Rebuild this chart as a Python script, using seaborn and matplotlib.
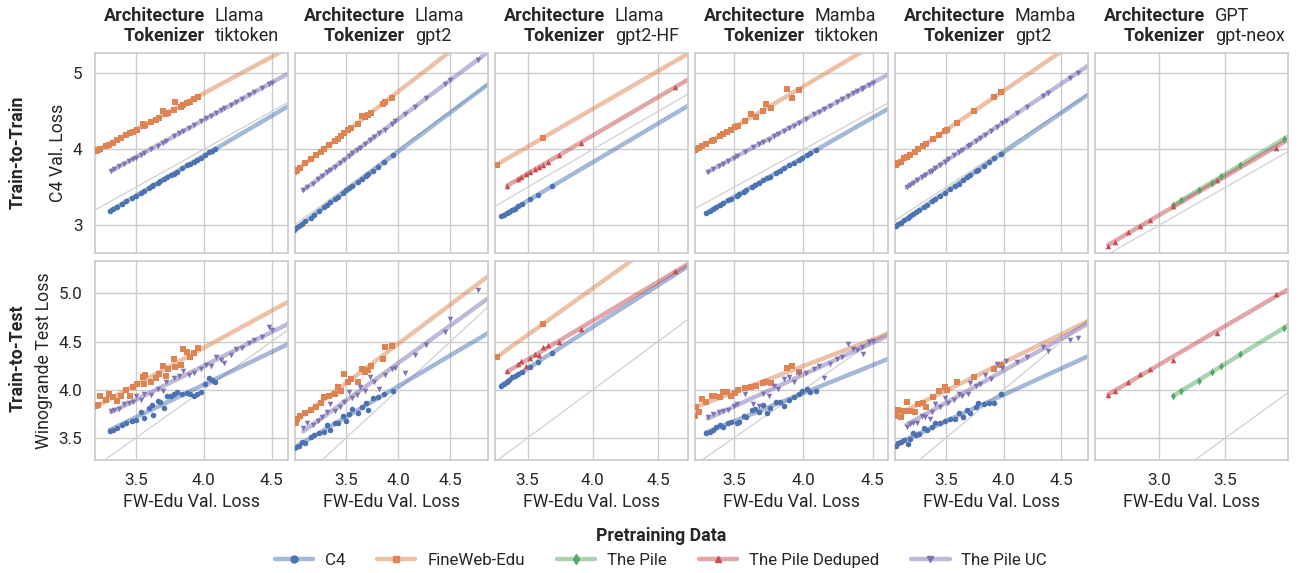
import numpy as np
import pandas as pd
import matplotlib
matplotlib.use("Agg")
import matplotlib.pyplot as plt
import seaborn as sns
from matplotlib.lines import Line2D
from matplotlib.ticker import MultipleLocator

# ---------------- data ----------------
architectures = ["Llama", "Llama", "Llama", "Mamba", "Mamba", "GPT"]
tokenizers = ["tiktoken", "gpt2", "gpt2-HF", "tiktoken", "gpt2", "gpt-neox"]
series_names = ["C4", "FineWeb-Edu", "The Pile", "The Pile Deduped", "The Pile UC"]

# Panel 1: Llama / tiktoken
p1_c4_x = [3.31, 3.33, 3.36, 3.40, 3.43, 3.47, 3.50, 3.54, 3.56, 3.60, 3.62, 3.63, 3.66, 3.68, 3.71, 3.73, 3.76, 3.78, 3.80, 3.84, 3.88, 3.90, 3.93, 3.95, 3.98, 4.01, 4.04, 4.06, 4.08]
p1_c4_train = [3.19, 3.21, 3.24, 3.28, 3.32, 3.36, 3.39, 3.43, 3.45, 3.49, 3.52, 3.53, 3.56, 3.58, 3.61, 3.63, 3.66, 3.68, 3.70, 3.75, 3.79, 3.81, 3.84, 3.86, 3.89, 3.93, 3.96, 3.98, 4.00]
p1_c4_test = [3.57, 3.58, 3.60, 3.63, 3.66, 3.68, 3.69, 3.77, 3.71, 3.81, 3.84, 3.74, 3.88, 3.87, 3.81, 3.94, 3.93, 3.96, 3.98, 3.96, 3.97, 3.96, 3.94, 3.96, 3.98, 4.06, 4.12, 4.10, 4.08]
p1_fw_x = [3.21, 3.22, 3.24, 3.28, 3.30, 3.33, 3.36, 3.39, 3.43, 3.46, 3.48, 3.51, 3.55, 3.56, 3.57, 3.61, 3.65, 3.67, 3.70, 3.72, 3.74, 3.78, 3.79, 3.83, 3.85, 3.88, 3.90, 3.93, 3.96]
p1_fw_train = [3.98, 3.99, 4.01, 4.05, 4.06, 4.09, 4.12, 4.15, 4.19, 4.22, 4.23, 4.26, 4.34, 4.31, 4.32, 4.36, 4.39, 4.41, 4.51, 4.46, 4.48, 4.52, 4.63, 4.56, 4.58, 4.61, 4.63, 4.66, 4.69]
p1_fw_test = [3.83, 3.84, 3.93, 3.89, 3.96, 3.92, 3.88, 3.94, 4.00, 3.94, 4.03, 4.06, 4.13, 4.06, 4.15, 4.08, 4.12, 4.16, 4.25, 4.14, 4.22, 4.32, 4.24, 4.26, 4.42, 4.39, 4.34, 4.38, 4.43]
p1_uc_x = [3.32, 3.34, 3.38, 3.41, 3.45, 3.48, 3.50, 3.54, 3.56, 3.61, 3.66, 3.70, 3.72, 3.78, 3.82, 3.85, 3.89, 3.93, 3.98, 4.02, 4.05, 4.09, 4.13, 4.15, 4.20, 4.24, 4.28, 4.33, 4.37, 4.43, 4.48, 4.50]
p1_uc_train = [3.72, 3.74, 3.78, 3.81, 3.85, 3.87, 3.89, 3.93, 3.95, 4.00, 4.05, 4.09, 4.11, 4.17, 4.21, 4.24, 4.28, 4.32, 4.37, 4.41, 4.44, 4.48, 4.52, 4.54, 4.58, 4.62, 4.66, 4.71, 4.75, 4.81, 4.86, 4.88]
p1_uc_test = [3.78, 3.79, 3.80, 3.85, 3.86, 3.87, 3.93, 3.89, 3.96, 3.95, 4.01, 3.99, 4.08, 4.12, 4.14, 4.19, 4.15, 4.17, 4.22, 4.26, 4.25, 4.34, 4.31, 4.28, 4.36, 4.42, 4.43, 4.48, 4.52, 4.55, 4.65, 4.62]

# Panel 2: Llama / gpt2
p2_c4_x = [3.00, 3.02, 3.05, 3.08, 3.11, 3.16, 3.19, 3.24, 3.29, 3.32, 3.35, 3.39, 3.42, 3.47, 3.50, 3.53, 3.56, 3.61, 3.65, 3.69, 3.71, 3.76, 3.81, 3.86, 3.95]
p2_c4_train = [2.94, 2.96, 2.99, 3.02, 3.05, 3.10, 3.14, 3.19, 3.24, 3.27, 3.30, 3.34, 3.37, 3.42, 3.46, 3.49, 3.52, 3.57, 3.61, 3.65, 3.67, 3.72, 3.77, 3.83, 3.92]
p2_c4_test = [3.40, 3.41, 3.42, 3.46, 3.45, 3.51, 3.53, 3.55, 3.56, 3.63, 3.58, 3.65, 3.66, 3.73, 3.68, 3.75, 3.80, 3.76, 3.82, 3.86, 3.79, 3.91, 3.92, 3.96, 3.99]
p2_fw_x = [3.00, 3.02, 3.03, 3.06, 3.11, 3.16, 3.21, 3.26, 3.29, 3.34, 3.39, 3.42, 3.45, 3.48, 3.52, 3.55, 3.61, 3.65, 3.68, 3.71, 3.74, 3.85, 3.87, 3.94]
p2_fw_train = [3.70, 3.72, 3.73, 3.76, 3.82, 3.87, 3.92, 3.97, 4.00, 4.06, 4.11, 4.14, 4.17, 4.22, 4.26, 4.28, 4.34, 4.44, 4.43, 4.45, 4.48, 4.60, 4.62, 4.68]
p2_fw_test = [3.66, 3.65, 3.70, 3.73, 3.76, 3.79, 3.82, 3.86, 3.92, 3.94, 3.96, 4.03, 3.99, 4.16, 4.08, 4.11, 4.08, 4.22, 4.18, 4.20, 4.25, 4.32, 4.44, 4.45]
p2_uc_x = [3.09, 3.13, 3.18, 3.23, 3.27, 3.32, 3.35, 3.39, 3.44, 3.48, 3.53, 3.56, 3.60, 3.63, 3.68, 3.73, 3.77, 3.82, 3.87, 3.94, 3.97, 4.06, 4.16, 4.27, 4.45, 4.50, 4.76]
p2_uc_train = [3.46, 3.50, 3.55, 3.61, 3.65, 3.70, 3.73, 3.77, 3.82, 3.86, 3.91, 3.95, 3.99, 4.02, 4.07, 4.12, 4.16, 4.21, 4.26, 4.34, 4.37, 4.46, 4.56, 4.68, 4.86, 4.91, 5.18]
p2_uc_test = [3.60, 3.65, 3.63, 3.68, 3.72, 3.77, 3.85, 3.78, 3.82, 3.87, 3.98, 3.91, 3.95, 4.03, 3.99, 4.13, 4.08, 4.01, 4.15, 4.22, 4.23, 4.17, 4.36, 4.46, 4.60, 4.73, 5.03]

# Panel 3: Llama / gpt2-HF
p3_c4_x = [3.30, 3.32, 3.34, 3.36, 3.38, 3.40, 3.43, 3.46, 3.52, 3.58, 3.69]
p3_c4_train = [3.12, 3.14, 3.16, 3.18, 3.20, 3.22, 3.25, 3.28, 3.34, 3.40, 3.52]
p3_c4_test = [4.04, 4.06, 4.08, 4.10, 4.13, 4.14, 4.16, 4.18, 4.24, 4.29, 4.38]
p3_fw_x = [3.265, 3.616]
p3_fw_train = [3.80, 4.15]
p3_fw_test = [4.34, 4.68]
p3_dd_x = [3.345, 3.43, 3.45, 3.49, 3.52, 3.56, 3.59, 3.62, 3.66, 3.74, 3.91, 4.63]
p3_dd_train = [3.52, 3.61, 3.63, 3.67, 3.70, 3.74, 3.77, 3.80, 3.84, 3.92, 4.09, 4.82]
p3_dd_test = [4.19, 4.27, 4.30, 4.25, 4.33, 4.37, 4.36, 4.44, 4.46, 4.49, 4.63, 5.23]

# Panel 4: Mamba / tiktoken
p4_c4_x = [3.30, 3.325, 3.35, 3.375, 3.40, 3.42, 3.46, 3.48, 3.52, 3.54, 3.57, 3.59, 3.63, 3.65, 3.68, 3.71, 3.74, 3.76, 3.80, 3.83, 3.86, 3.90, 3.93, 3.97, 3.99, 4.03, 4.05, 4.09]
p4_c4_train = [3.16, 3.19, 3.21, 3.24, 3.27, 3.29, 3.33, 3.35, 3.39, 3.41, 3.44, 3.46, 3.51, 3.53, 3.56, 3.59, 3.62, 3.64, 3.69, 3.72, 3.75, 3.79, 3.82, 3.86, 3.88, 3.93, 3.95, 3.99]
p4_c4_test = [3.55, 3.56, 3.58, 3.61, 3.63, 3.61, 3.65, 3.67, 3.66, 3.67, 3.73, 3.72, 3.79, 3.80, 3.77, 3.84, 3.76, 3.81, 3.87, 3.87, 3.83, 3.89, 3.92, 3.96, 3.99, 4.01, 3.98, 3.99]
p4_fw_x = [3.22, 3.23, 3.25, 3.27, 3.30, 3.34, 3.36, 3.40, 3.42, 3.45, 3.48, 3.51, 3.53, 3.58, 3.62, 3.66, 3.71, 3.73, 3.77, 3.88, 3.92, 3.97]
p4_fw_train = [3.99, 4.00, 4.02, 4.04, 4.07, 4.11, 4.13, 4.18, 4.20, 4.23, 4.26, 4.29, 4.31, 4.38, 4.46, 4.43, 4.50, 4.60, 4.54, 4.79, 4.68, 4.78]
p4_fw_test = [3.73, 3.82, 3.77, 3.90, 3.87, 3.94, 3.93, 3.92, 3.98, 3.98, 3.94, 3.97, 4.00, 4.02, 4.03, 4.04, 4.07, 4.08, 4.07, 4.23, 4.25, 4.18]
p4_uc_x = [3.313, 3.35, 3.39, 3.42, 3.46, 3.50, 3.52, 3.58, 3.64, 3.68, 3.71, 3.75, 3.79, 3.82, 3.86, 3.90, 3.93, 3.97, 4.02, 4.08, 4.11, 4.15, 4.19, 4.24, 4.28, 4.32, 4.36, 4.39, 4.42, 4.43, 4.47, 4.50]
p4_uc_train = [3.70, 3.74, 3.78, 3.81, 3.85, 3.89, 3.91, 3.97, 4.03, 4.07, 4.10, 4.13, 4.17, 4.20, 4.24, 4.28, 4.31, 4.35, 4.40, 4.46, 4.49, 4.53, 4.57, 4.62, 4.66, 4.70, 4.74, 4.77, 4.80, 4.81, 4.85, 4.88]
p4_uc_test = [3.72, 3.75, 3.77, 3.78, 3.79, 3.83, 3.85, 3.96, 3.85, 3.83, 3.96, 3.94, 4.04, 4.01, 4.11, 4.13, 4.08, 4.17, 4.17, 4.22, 4.25, 4.12, 4.27, 4.32, 4.34, 4.47, 4.42, 4.41, 4.44, 4.37, 4.50, 4.51]

# Panel 5: Mamba / gpt2
p5_c4_x = [3.067, 3.09, 3.11, 3.14, 3.17, 3.19, 3.22, 3.24, 3.27, 3.31, 3.34, 3.38, 3.41, 3.45, 3.49, 3.54, 3.58, 3.61, 3.65, 3.68, 3.71, 3.76, 3.78, 3.83, 3.87, 3.92, 3.98]
p5_c4_train = [2.99, 3.01, 3.03, 3.07, 3.10, 3.12, 3.15, 3.17, 3.20, 3.24, 3.27, 3.32, 3.35, 3.39, 3.43, 3.48, 3.52, 3.55, 3.60, 3.63, 3.66, 3.71, 3.73, 3.78, 3.83, 3.88, 3.94]
p5_c4_test = [3.42, 3.45, 3.46, 3.48, 3.44, 3.49, 3.55, 3.53, 3.54, 3.60, 3.58, 3.61, 3.65, 3.66, 3.68, 3.70, 3.70, 3.76, 3.72, 3.79, 3.76, 3.82, 3.86, 3.85, 3.86, 3.86, 3.96]
p5_fw_x = [3.067, 3.09, 3.11, 3.14, 3.16, 3.19, 3.23, 3.26, 3.30, 3.33, 3.39, 3.44, 3.49, 3.51, 3.60, 3.74, 3.92, 3.98]
p5_fw_train = [3.80, 3.82, 3.84, 3.88, 3.90, 3.93, 3.97, 4.00, 4.04, 4.07, 4.14, 4.19, 4.24, 4.26, 4.35, 4.50, 4.69, 4.75]
p5_fw_test = [3.73, 3.79, 3.72, 3.78, 3.87, 3.78, 3.77, 3.85, 3.86, 3.82, 3.92, 3.99, 4.03, 4.00, 4.08, 4.13, 4.22, 4.26]
p5_uc_x = [3.16, 3.19, 3.22, 3.25, 3.29, 3.32, 3.36, 3.38, 3.41, 3.45, 3.49, 3.52, 3.57, 3.61, 3.64, 3.69, 3.71, 3.76, 3.80, 3.84, 3.89, 3.94, 3.99, 4.02, 4.12, 4.20, 4.34, 4.38, 4.57, 4.64]
p5_uc_train = [3.50, 3.53, 3.56, 3.59, 3.63, 3.66, 3.70, 3.72, 3.76, 3.80, 3.84, 3.87, 3.92, 3.96, 3.99, 4.04, 4.06, 4.11, 4.15, 4.19, 4.24, 4.30, 4.35, 4.38, 4.48, 4.56, 4.70, 4.74, 4.94, 5.01]
p5_uc_test = [3.61, 3.64, 3.66, 3.65, 3.73, 3.72, 3.70, 3.77, 3.85, 3.82, 3.91, 3.86, 3.89, 3.96, 3.93, 3.96, 4.07, 4.04, 4.06, 4.15, 4.11, 4.27, 4.23, 4.30, 4.29, 4.34, 4.44, 4.40, 4.52, 4.54]

# Panel 6: GPT / gpt-neox
p6_dd_x = [2.62, 2.67, 2.77, 2.86, 2.93, 3.11, 3.44, 3.88]
p6_dd_train = [2.72, 2.78, 2.91, 2.99, 3.07, 3.26, 3.59, 4.02]
p6_dd_test = [3.95, 3.99, 4.08, 4.16, 4.22, 4.31, 4.59, 4.99]
p6_pile_x = [3.11, 3.17, 3.30, 3.40, 3.47, 3.61, 3.94]
p6_pile_train = [3.27, 3.33, 3.46, 3.56, 3.65, 3.79, 4.14]
p6_pile_test = [3.94, 3.99, 4.09, 4.18, 4.25, 4.37, 4.64]

panel_series = [
    [("C4", p1_c4_x, p1_c4_train, p1_c4_test), ("FineWeb-Edu", p1_fw_x, p1_fw_train, p1_fw_test), ("The Pile UC", p1_uc_x, p1_uc_train, p1_uc_test)],
    [("C4", p2_c4_x, p2_c4_train, p2_c4_test), ("FineWeb-Edu", p2_fw_x, p2_fw_train, p2_fw_test), ("The Pile UC", p2_uc_x, p2_uc_train, p2_uc_test)],
    [("C4", p3_c4_x, p3_c4_train, p3_c4_test), ("FineWeb-Edu", p3_fw_x, p3_fw_train, p3_fw_test), ("The Pile Deduped", p3_dd_x, p3_dd_train, p3_dd_test)],
    [("C4", p4_c4_x, p4_c4_train, p4_c4_test), ("FineWeb-Edu", p4_fw_x, p4_fw_train, p4_fw_test), ("The Pile UC", p4_uc_x, p4_uc_train, p4_uc_test)],
    [("C4", p5_c4_x, p5_c4_train, p5_c4_test), ("FineWeb-Edu", p5_fw_x, p5_fw_train, p5_fw_test), ("The Pile UC", p5_uc_x, p5_uc_train, p5_uc_test)],
    [("The Pile", p6_pile_x, p6_pile_train, p6_pile_test), ("The Pile Deduped", p6_dd_x, p6_dd_train, p6_dd_test)],
]

# ---------------- styling ----------------
sns.set_theme(style="whitegrid")
plt.rcParams['font.family'] = ['Roboto', 'DejaVu Sans']
FS_TICK = 12.3
FS_LAB = 12.8
FS_TITLE = 13.0
FS_LEG = 12.2
TXT = "#262626"

deep = sns.color_palette("deep")
colors = {"C4": deep[0], "FineWeb-Edu": deep[1], "The Pile": deep[2],
          "The Pile Deduped": deep[3], "The Pile UC": deep[4]}
markers = {"C4": "o", "FineWeb-Edu": "s", "The Pile": "d",
           "The Pile Deduped": "^", "The Pile UC": "v"}

xlims = [(3.20, 4.62), (3.01, 4.86), (3.25, 4.73), (3.22, 4.61), (3.06, 4.73), (2.52, 3.97)]
ylims = [(2.64, 5.27), (3.27, 5.34)]
row_titles = ["Train-to-Train", "Train-to-Test"]
y_labels = ["C4 Val. Loss", "Winogrande Test Loss"]
y_steps = [1.0, 0.5]

rows = []
for p, ser in enumerate(panel_series):
    for name, xs, tr, te in ser:
        rows.append(pd.DataFrame({"panel": p, "series": name, "x": xs, "train": tr, "test": te}))
df = pd.concat(rows, ignore_index=True)

fig, axes = plt.subplots(2, 6, figsize=(13.01, 5.73), dpi=100, sharex='col', sharey='row')
fig.subplots_adjust(left=0.073, right=0.990, top=0.9075, bottom=0.197, wspace=0.036, hspace=0.04)

for i, ycol in enumerate(["train", "test"]):
    for j in range(6):
        ax = axes[i, j]
        sub = df[df.panel == j]
        ax.axline((3, 3), slope=1, color="#d0d0d0", lw=0.9, zorder=1)
        for name in [s for s in series_names if s in set(sub.series)]:
            d = sub[sub.series == name]
            coef = np.polyfit(d["x"], d[ycol], 1)
            lx = np.linspace(d["x"].min(), xlims[j][1], 60)
            sns.lineplot(x=lx, y=np.polyval(coef, lx), color=colors[name], lw=3.2,
                         alpha=0.5, ax=ax, zorder=2)
            sns.scatterplot(data=d, x="x", y=ycol, color=colors[name], marker=markers[name],
                            s=16, linewidth=0, ax=ax, zorder=3, legend=False)
        ax.set_xlim(*xlims[j])
        ax.set_ylim(*ylims[i])
        ax.xaxis.set_major_locator(MultipleLocator(0.5))
        ax.yaxis.set_major_locator(MultipleLocator(y_steps[i]))
        ax.tick_params(labelsize=FS_TICK, colors=TXT, pad=3)
        ax.set_xlabel("FW-Edu Val. Loss" if i == 1 else "", fontsize=FS_LAB, color=TXT)
        ax.set_ylabel(y_labels[i] if j == 0 else "", fontsize=FS_LAB, color=TXT)
        for sp in ax.spines.values():
            sp.set_color("#cccccc")
        if i == 0:
            ax.text(0.569, 1.158, "Architecture", transform=ax.transAxes, ha="right",
                    va="baseline", fontsize=FS_TITLE, fontweight="bold", color=TXT)
            ax.text(0.621, 1.158, architectures[j], transform=ax.transAxes, ha="left",
                    va="baseline", fontsize=FS_TITLE, color=TXT)
            ax.text(0.569, 1.058, "Tokenizer", transform=ax.transAxes, ha="right",
                    va="baseline", fontsize=FS_TITLE, fontweight="bold", color=TXT)
            ax.text(0.621, 1.058, tokenizers[j], transform=ax.transAxes, ha="left",
                    va="baseline", fontsize=FS_TITLE, color=TXT)

fig.text(18 / 1301, 1 - 152 / 573, row_titles[0], rotation=90, ha="center", va="center",
         fontsize=FS_LAB, fontweight="bold", color=TXT)
fig.text(18 / 1301, 1 - 358 / 573, row_titles[1], rotation=90, ha="center", va="center",
         fontsize=FS_LAB, fontweight="bold", color=TXT)

handles = []
for name in series_names:
    c = colors[name]
    handles.append(Line2D([0], [0], color=(*c, 0.5), lw=3.2, marker=markers[name],
                          markersize=5, markerfacecolor=c, markeredgecolor=c))
leg = fig.legend(handles, series_names, loc="lower center", bbox_to_anchor=(0.508, -0.018),
                 ncol=5, frameon=False, fontsize=FS_LEG, title="Pretraining Data",
                 title_fontproperties={"weight": "bold", "size": FS_LAB},
                 handlelength=2.25, columnspacing=1.9, handletextpad=0.7)
for t in leg.get_texts():
    t.set_color(TXT)
leg.get_title().set_color(TXT)

fig.savefig("out.png", dpi=100)
